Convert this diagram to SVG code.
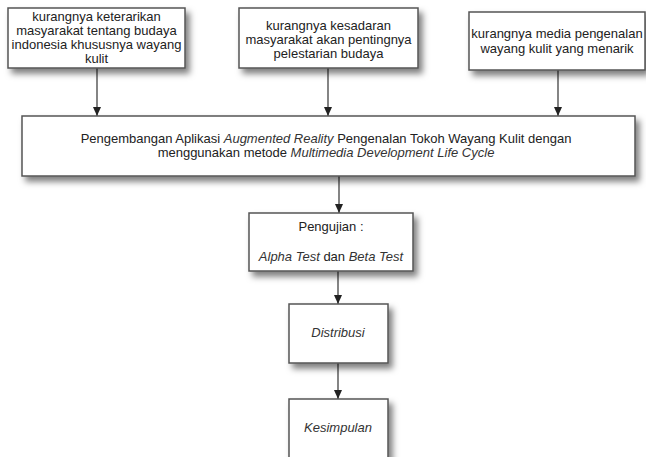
<svg xmlns="http://www.w3.org/2000/svg" width="646" height="457" viewBox="0 0 646 457">
<defs>
<filter id="sh" x="-10%" y="-20%" width="130%" height="160%">
<feDropShadow dx="4" dy="5" stdDeviation="3" flood-color="#000" flood-opacity="0.5"/>
</filter>
</defs>
<style>
.box{fill:#fff;stroke:#555;stroke-width:1.5;filter:url(#sh)}
text{font-family:"Liberation Sans",Arial,sans-serif;font-size:13px;fill:#222;text-anchor:middle}
.i{font-style:italic;fill:#333}
.c{stroke:#333;stroke-width:1.2;fill:none}
.h{fill:#222}
</style>
<rect width="646" height="457" fill="#fff"/>
<g id="connectors">
<line class="c" x1="97" y1="68" x2="97" y2="116"/>
<path class="h" d="M93,107 L101,107 L97,116 Z"/>
<line class="c" x1="328" y1="68" x2="328" y2="116"/>
<path class="h" d="M324,107 L332,107 L328,116 Z"/>
<line class="c" x1="558" y1="70" x2="558" y2="116"/>
<path class="h" d="M554,107 L562,107 L558,116 Z"/>
<line class="c" x1="339" y1="176" x2="339" y2="213"/>
<path class="h" d="M335,204 L343,204 L339,213 Z"/>
<line class="c" x1="338" y1="271" x2="338" y2="304"/>
<path class="h" d="M334,295 L342,295 L338,304 Z"/>
<line class="c" x1="338" y1="363" x2="338" y2="399"/>
<path class="h" d="M334,390 L342,390 L338,399 Z"/>
</g>
<g id="node1">
<rect class="box" x="8" y="8" width="177" height="60"/>
<text x="96.5" y="21">kurangnya keterarikan</text>
<text x="96.5" y="35">masyarakat tentang budaya</text>
<text x="96.5" y="49">indonesia khususnya wayang</text>
<text x="96.5" y="63">kulit</text>
</g>
<g id="node2">
<rect class="box" x="239" y="8" width="179" height="60"/>
<text x="328.5" y="30">kurangnya kesadaran</text>
<text x="328.5" y="44">masyarakat akan pentingnya</text>
<text x="328.5" y="58">pelestarian budaya</text>
</g>
<g id="node3">
<rect class="box" x="469" y="12" width="176" height="58"/>
<text x="557" y="38">kurangnya media pengenalan</text>
<text x="557" y="53">wayang kulit yang menarik</text>
</g>
<g id="node4">
<rect class="box" x="22" y="116" width="613" height="60"/>
<text x="326" y="143">Pengembangan Aplikasi <tspan class="i">Augmented Reality</tspan> Pengenalan Tokoh Wayang Kulit dengan</text>
<text x="326" y="157">menggunakan metode <tspan class="i">Multimedia Development Life Cycle</tspan></text>
</g>
<g id="node5">
<rect class="box" x="249" y="213" width="164" height="58"/>
<text x="331" y="231">Pengujian :</text>
<text x="331" y="261"><tspan class="i">Alpha Test</tspan> dan <tspan class="i">Beta Test</tspan></text>
</g>
<g id="node6">
<rect class="box" x="289" y="304" width="99" height="59"/>
<text x="338" y="337" class="i">Distribusi</text>
</g>
<g id="node7">
<rect class="box" x="289" y="399" width="99" height="70"/>
<text x="338" y="432" class="i">Kesimpulan</text>
</g>
</svg>
